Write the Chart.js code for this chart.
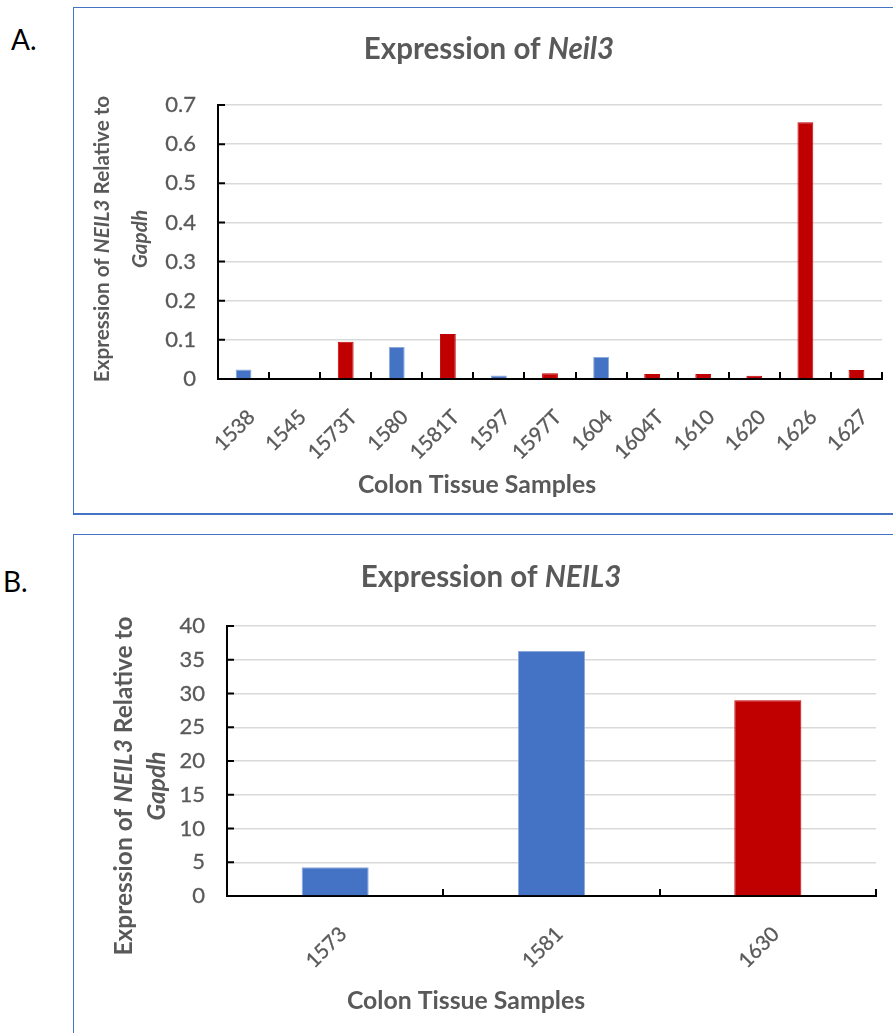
<!DOCTYPE html>
<html>
<head>
<meta charset="utf-8">
<script src="https://cdn.jsdelivr.net/npm/chart.js@4.4.1/dist/chart.umd.min.js"></script>
<style>
  html, body { margin: 0; padding: 0; background: #fff; overflow: hidden; }
  body { width: 893px; height: 1033px; position: relative; font-family: Lato, sans-serif; }
  .panel { position: absolute; left: 73px; width: 840px; border: 1.5px solid #4472c4; background: #fff; }
  #boxA { top: 7px; height: 505px; border-bottom-width: 2.5px; }
  #boxB { top: 534px; height: 520px; }
  .tag { position: absolute; font: 28px Lato, sans-serif; color: #000; }
  canvas { position: absolute; left: 0; top: 0; }
</style>
</head>
<body>
<div class="tag" style="left:11px; top:22px;">A.</div>
<div class="tag" style="left:3px; top:564px;">B.</div>
<div class="panel" id="boxA"><canvas id="chartA" width="830" height="504"></canvas></div>
<div class="panel" id="boxB"><canvas id="chartB" width="830" height="498"></canvas></div>
<script>
// samples for panel A (mouse colon tissue) and panel B
var samplesA = ['1538', '1545', '1573T', '1580', '1581T', '1597', '1597T', '1604', '1604T', '1610', '1620', '1626', '1627'];
var neil3A = [0.024, 0, 0.095, 0.082, 0.115, 0.009, 0.015, 0.056, 0.013, 0.013, 0.008, 0.656, 0.023];
var groupA = ['N', 'N', 'T', 'N', 'T', 'N', 'T', 'N', 'T', 'T', 'T', 'T', 'T'];
var ticksA = [0, 0.1, 0.2, 0.3, 0.4, 0.5, 0.6, 0.7];

var samplesB = ['1573', '1581', '1630'];
var neil3B = [4.25, 36.3, 29.0];
var groupB = ['N', 'N', 'T'];
var ticksB = [0, 5, 10, 15, 20, 25, 30, 35, 40];

var BLUE = '#4472c4', RED = '#c00000', GREY = '#595959';
var FONT = 'Lato, sans-serif';

// draw a line of text where some runs are italic, centred on (x, y)
function richText(ctx, runs, x, y, size, angle) {
  ctx.save();
  ctx.translate(x, y);
  ctx.rotate(angle || 0);
  ctx.fillStyle = GREY;
  ctx.textBaseline = 'middle';
  ctx.textAlign = 'left';
  var total = 0;
  runs.forEach(function (r) {
    ctx.font = (r[1] ? 'italic ' : '') + 'bold ' + size + 'px ' + FONT;
    total += ctx.measureText(r[0]).width;
  });
  var cx = -total / 2;
  runs.forEach(function (r) {
    ctx.font = (r[1] ? 'italic ' : '') + 'bold ' + size + 'px ' + FONT;
    ctx.fillText(r[0], cx, 0);
    cx += ctx.measureText(r[0]).width;
  });
  ctx.restore();
}

// Excel-style titles and inside tick marks
var decor = {
  id: 'decor',
  afterDraw: function (chart, args, o) {
    var ctx = chart.ctx;
    var xs = chart.scales.x, ys = chart.scales.y;
    ctx.save();
    ctx.strokeStyle = '#000';
    ctx.lineWidth = 2;
    ctx.beginPath();
    for (var i = 0; i < xs.ticks.length; i++) {
      var px = Math.round(xs.getPixelForValue(i + 0.5));
      ctx.moveTo(px, ys.bottom);
      ctx.lineTo(px, ys.bottom - 7);
    }
    ys.ticks.forEach(function (t) {
      var py = ys.getPixelForValue(t.value);
      ctx.moveTo(xs.left, py);
      ctx.lineTo(xs.left + 7, py);
    });
    ctx.stroke();
    ctx.restore();

    richText(ctx, o.title, o.titlePos[0], o.titlePos[1], o.titleSize, 0);
    richText(ctx, o.xTitle, o.xTitlePos[0], o.xTitlePos[1], o.axisSize, 0);
    o.yTitle.forEach(function (line, k) {
      richText(ctx, line, o.yTitlePos[k][0], o.yTitlePos[k][1], o.yAxisSize, -Math.PI / 2);
    });
  }
};

function makeChart(id, labels, values, groups, yTicks, layout, deco) {
  return new Chart(document.getElementById(id), {
    type: 'bar',
    data: {
      labels: labels,
      datasets: [{
        data: values,
        backgroundColor: groups.map(function (g) { return g === 'T' ? RED : BLUE; }),
        borderColor: groups.map(function (g) { return g === 'T' ? RED : '#8eaadb'; }),
        borderWidth: 1,
        categoryPercentage: 1,
        barPercentage: 0.31
      }]
    },
    options: {
      responsive: false,
      animation: false,
      layout: { padding: layout.padding },
      plugins: { legend: { display: false }, tooltip: { enabled: false }, decor: deco },
      scales: {
        x: {
          offset: true,
          grid: { display: false, drawTicks: false },
          border: { display: true, color: '#000', width: 2 },
          ticks: {
            color: GREY, font: { family: FONT, size: 20.5 },
            textStrokeColor: GREY, textStrokeWidth: 0.3,
            minRotation: 45, maxRotation: 45, autoSkip: false,
            padding: 26, labelOffset: 8
          },
          afterFit: function (s) { s.height = layout.xHeight; }
        },
        y: {
          min: yTicks[0],
          max: yTicks[yTicks.length - 1],
          afterBuildTicks: function (s) { s.ticks = yTicks.map(function (v) { return { value: v }; }); },
          grid: { color: '#d9d9d9', lineWidth: 1.5, drawTicks: false },
          border: { display: true, color: '#000', width: 2 },
          ticks: { color: GREY, font: { family: FONT, size: 22 }, textStrokeColor: GREY, textStrokeWidth: 0.3, padding: 22 },
          afterFit: function (s) { s.width = 70; }
        }
      }
    },
    plugins: [decor]
  });
}

makeChart('chartA', samplesA, neil3A, groupA, ticksA,
  { padding: { left: 74, right: 22, top: 97, bottom: 0 }, xHeight: 133 },
  {
    title: [['Expression of ', false], ['Neil3', true]],
    titlePos: [415, 41], titleSize: 29.5,
    xTitle: [['Colon Tissue Samples', false]],
    xTitlePos: [403, 477], axisSize: 24.8, yAxisSize: 20.7,
    yTitle: [
      [['Expression of ', false], ['NEIL3', true], [' Relative to', false]],
      [['Gapdh', true]]
    ],
    yTitlePos: [[28, 231], [66, 231]]
  });

makeChart('chartB', samplesB, neil3B, groupB, ticksB,
  { padding: { left: 83, right: 28, top: 91, bottom: 0 }, xHeight: 137 },
  {
    title: [['Expression of ', false], ['NEIL3', true]],
    titlePos: [417, 42], titleSize: 29.5,
    xTitle: [['Colon Tissue Samples', false]],
    xTitlePos: [392, 466], axisSize: 24.8, yAxisSize: 24.5,
    yTitle: [
      [['Expression of ', false], ['NEIL3', true], [' Relative to', false]],
      [['Gapdh', true]]
    ],
    yTitlePos: [[50, 251], [83, 251]]
  });
</script>
</body>
</html>
